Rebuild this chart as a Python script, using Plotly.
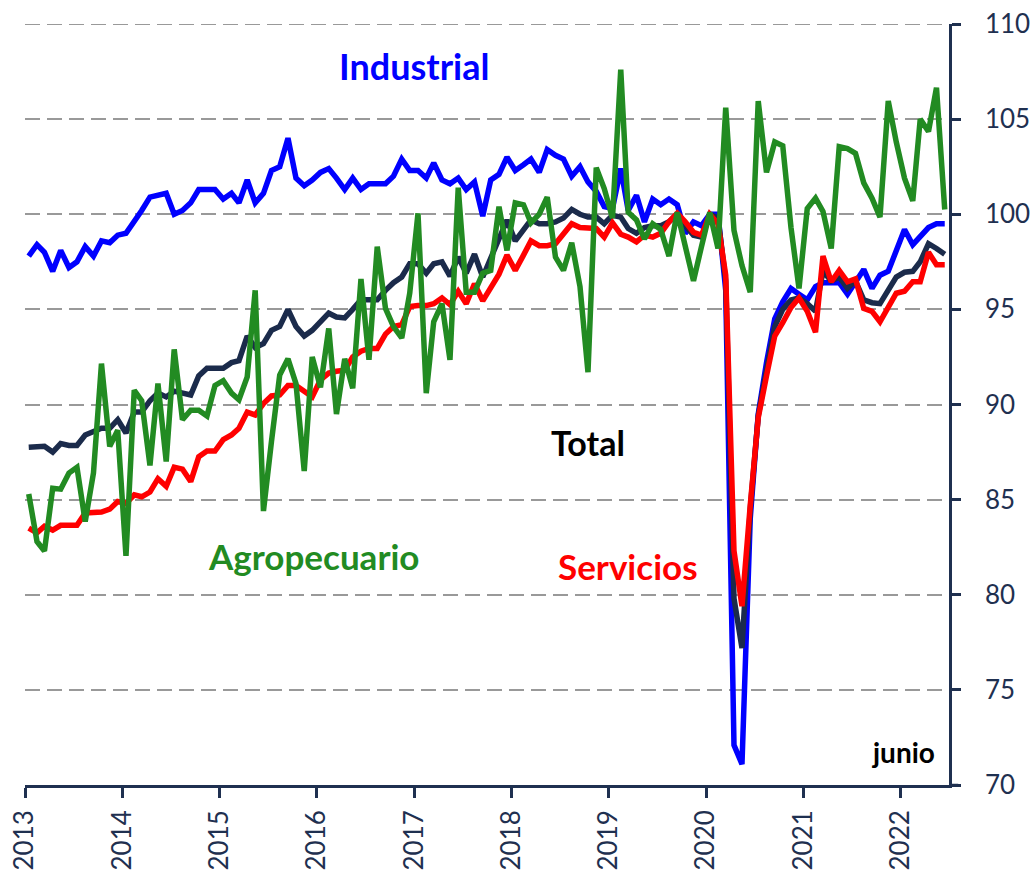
import pandas as pd
import plotly.graph_objects as go

# Monthly index values, January 2013 - June 2022
months = pd.date_range("2013-01-01", periods=114, freq="MS") + pd.Timedelta(days=14)

industrial = [
    97.8, 98.4, 98.0, 97.0, 98.1, 97.2, 97.5, 98.3, 97.8, 98.6, 98.5, 98.9,
    99.0, 99.6, 100.2, 100.9, 101.0, 101.1, 100.0, 100.2, 100.6, 101.3, 101.3, 101.3,
    100.8, 101.1, 100.6, 101.8, 100.6, 101.1, 102.3, 102.5, 104.0, 101.9, 101.5, 101.8,
    102.2, 102.4, 101.9, 101.3, 101.9, 101.3, 101.6, 101.6, 101.6, 102.0, 102.9, 102.3,
    102.3, 101.9, 102.7, 101.8, 101.6, 101.9, 101.3, 101.7, 99.9, 101.8, 102.1, 103.0,
    102.3, 102.6, 102.9, 102.2, 103.4, 103.1, 102.9, 102.0, 102.5, 101.7, 101.2, 100.4,
    100.3, 102.4, 100.2, 101.0, 99.6, 100.8, 100.5, 100.8, 100.5, 99.0, 99.6, 99.4,
    100.0, 100.0, 96.0, 72.1, 71.1, 84.0, 89.5, 92.2, 94.5, 95.4, 96.1, 95.8,
    95.5, 96.2, 96.4, 96.4, 96.4, 95.8, 96.5, 97.1, 96.1, 96.8, 97.0, 98.1,
    99.2, 98.4, 98.8, 99.3, 99.5, 99.5,
]

total = [
    87.75, 87.8, 87.8, 87.5, 87.95, 87.85, 87.85, 88.4, 88.55, 88.75, 88.75, 89.2,
    88.5, 89.6, 89.6, 90.2, 90.6, 90.4, 90.7, 90.6, 90.5, 91.5, 91.9, 91.9,
    91.9, 92.2, 92.3, 93.6, 93.0, 93.2, 93.9, 94.1, 95.0, 94.1, 93.6, 93.9,
    94.4, 94.8, 94.6, 94.55, 95.0, 95.5, 95.5, 95.5, 96.0, 96.4, 96.7, 97.4,
    97.4, 96.9, 97.4, 97.5, 96.75, 97.75, 96.9, 97.9, 96.7, 97.7, 98.6, 99.7,
    98.6, 99.2, 99.7, 99.5, 99.5, 99.6, 99.8, 100.25, 100.0, 99.85, 99.85, 99.5,
    99.95, 99.85, 99.25, 99.0, 99.3, 99.4, 99.4, 99.6, 100.0, 99.4, 98.9, 98.8,
    100.0, 99.8, 96.5, 79.8, 77.2, 84.5, 89.4, 91.8, 94.1, 95.0, 95.5, 95.6,
    95.3, 94.9, 97.0, 96.5, 96.7, 96.1, 96.5, 95.5, 95.35, 95.3, 96.0, 96.7,
    96.95, 97.0, 97.5, 98.45, 98.2, 97.9,
]

servicios = [
    83.5, 83.25, 83.6, 83.4, 83.65, 83.65, 83.65, 84.3, 84.35, 84.35, 84.5, 84.9,
    84.8, 85.25, 85.15, 85.4, 86.1, 85.7, 86.7, 86.6, 85.95, 87.25, 87.55, 87.55,
    88.15, 88.4, 88.75, 89.6, 89.45, 90.05, 90.45, 90.5, 91.0, 91.0, 90.7, 90.4,
    91.3, 91.65, 91.75, 91.8, 92.5, 92.8, 92.95, 92.95, 93.7, 94.1, 94.2, 95.15,
    95.2, 95.2, 95.3, 95.6, 95.25, 95.95, 95.3, 96.35, 95.45, 96.1, 96.85, 97.85,
    97.05, 97.85, 98.6, 98.35, 98.35, 98.45, 99.0, 99.5, 99.3, 99.25, 99.25, 98.8,
    99.55, 98.95, 98.8, 98.55, 98.9, 98.8, 99.0, 99.6, 100.05, 99.6, 99.05, 98.9,
    100.0, 99.5, 96.8, 82.3, 79.4, 84.7, 89.3, 91.5, 93.6, 94.3, 95.1, 95.6,
    94.9, 93.8, 97.8, 96.45, 97.05, 96.45, 96.6, 95.05, 94.9, 94.35, 95.15, 95.85,
    95.95, 96.45, 96.45, 98.0, 97.35, 97.35,
]

agropecuario = [
    85.3, 82.8, 82.3, 85.6, 85.55, 86.4, 86.7, 83.85, 86.4, 92.15, 87.8, 88.65,
    82.05, 90.75, 90.2, 86.8, 91.1, 87.0, 92.9, 89.2, 89.7, 89.7, 89.4, 91.0,
    91.25, 90.6, 90.25, 91.45, 96.0, 84.4, 88.05, 91.55, 92.4, 91.1, 86.5, 92.5,
    90.9, 94.0, 89.5, 92.4, 90.85, 96.6, 92.35, 98.3, 95.05, 94.1, 93.5, 95.85,
    100.05, 90.6, 94.35, 95.3, 92.35, 101.4, 95.9, 95.9, 96.9, 97.05, 100.4, 98.1,
    100.6, 100.5, 99.55, 100.0, 100.9, 97.75, 97.05, 98.5, 96.2, 91.7, 102.45, 101.35,
    99.8, 107.6, 100.1, 99.7, 98.7, 99.5, 99.2, 97.8, 100.1, 98.3, 96.5, 98.3,
    100.1, 98.2, 105.6, 99.15, 97.3, 95.9, 105.95, 102.2, 103.8, 103.6, 99.3, 96.1,
    100.3, 100.85, 100.15, 98.2, 103.55, 103.45, 103.2, 101.65, 100.85, 99.85, 105.95, 103.8,
    101.9, 100.7, 105.0, 104.35, 106.65, 100.25,
]

years = [str(y) for y in range(2013, 2023)]
year_ticks = [f"{y}-01-01" for y in years]

NAVY = "#1F3050"
FONT = "Lato"

fig = go.Figure()
series = [
    ("Industrial", industrial, "#0000FF"),
    ("Total", total, "#1B2B4B"),
    ("Servicios", servicios, "#FF0000"),
    ("Agropecuario", agropecuario, "#228B22"),
]
for name, vals, color in series:
    fig.add_trace(go.Scatter(
        x=months, y=vals, mode="lines", name=name,
        line=dict(color=color, width=5.5), showlegend=False,
    ))

labels = [
    ("Industrial", "2017-01-01", 107.8, "#0000FF", 36),
    ("Total", "2018-10-15", 88.0, "#000000", 34),
    ("Agropecuario", "2015-12-20", 82.05, "#228B22", 35),
    ("Servicios", "2019-03-15", 81.5, "#FF0000", 35),
    ("junio", "2022-01-08", 71.75, "#000000", 28),
]
for text, xv, yv, color, size in labels:
    fig.add_annotation(
        x=xv, y=yv, text=text, showarrow=False, xanchor="center", yanchor="middle",
        font=dict(family=FONT, size=size, color=color, weight="bold"),
    )

fig.update_layout(
    width=1032, height=872,
    margin=dict(l=25, r=83, t=24, b=87, autoexpand=False),
    paper_bgcolor="white", plot_bgcolor="white",
    font=dict(family=FONT, color=NAVY),
)
fig.update_xaxes(
    type="date", range=["2013-01-01", "2022-07-01"], automargin=False,
    tickvals=year_ticks, ticktext=years, tickangle=-90,
    tickfont=dict(size=26, color=NAVY, family=FONT),
    ticklabeloverflow="allow", ticklabelstandoff=2,
    showgrid=False, zeroline=False,
    showline=True, linecolor=NAVY, linewidth=2.5,
    ticks="outside", ticklen=10, tickwidth=2.5, tickcolor=NAVY,
)
fig.update_yaxes(
    side="right", range=[70, 110], dtick=5, tick0=70, automargin=False,
    tickfont=dict(size=26, color=NAVY, family=FONT),
    ticklabeloverflow="allow",
    showgrid=True, gridcolor="#999999", gridwidth=2, griddash="15px,7px",
    zeroline=False,
    showline=True, linecolor=NAVY, linewidth=2.5,
    ticks="outside", ticklen=9, tickwidth=2.5, tickcolor=NAVY,
    ticklabelstandoff=19,
)
# dashed gridline along the top edge (110) and short extension of the x axis line
fig.add_shape(type="line", xref="paper", yref="y", x0=0, x1=1, y0=110, y1=110,
              line=dict(color="#999999", width=2, dash="15px,7px"), layer="below")
fig.add_shape(type="line", xref="paper", yref="paper", x0=1, x1=1.01, y0=0, y1=0,
              line=dict(color=NAVY, width=2.5))

# remove the default 8px page margin so the figure fills the window exactly
fig.write_html("out.html", config={"displayModeBar": False},
               post_script="document.body.style.margin='0';")
